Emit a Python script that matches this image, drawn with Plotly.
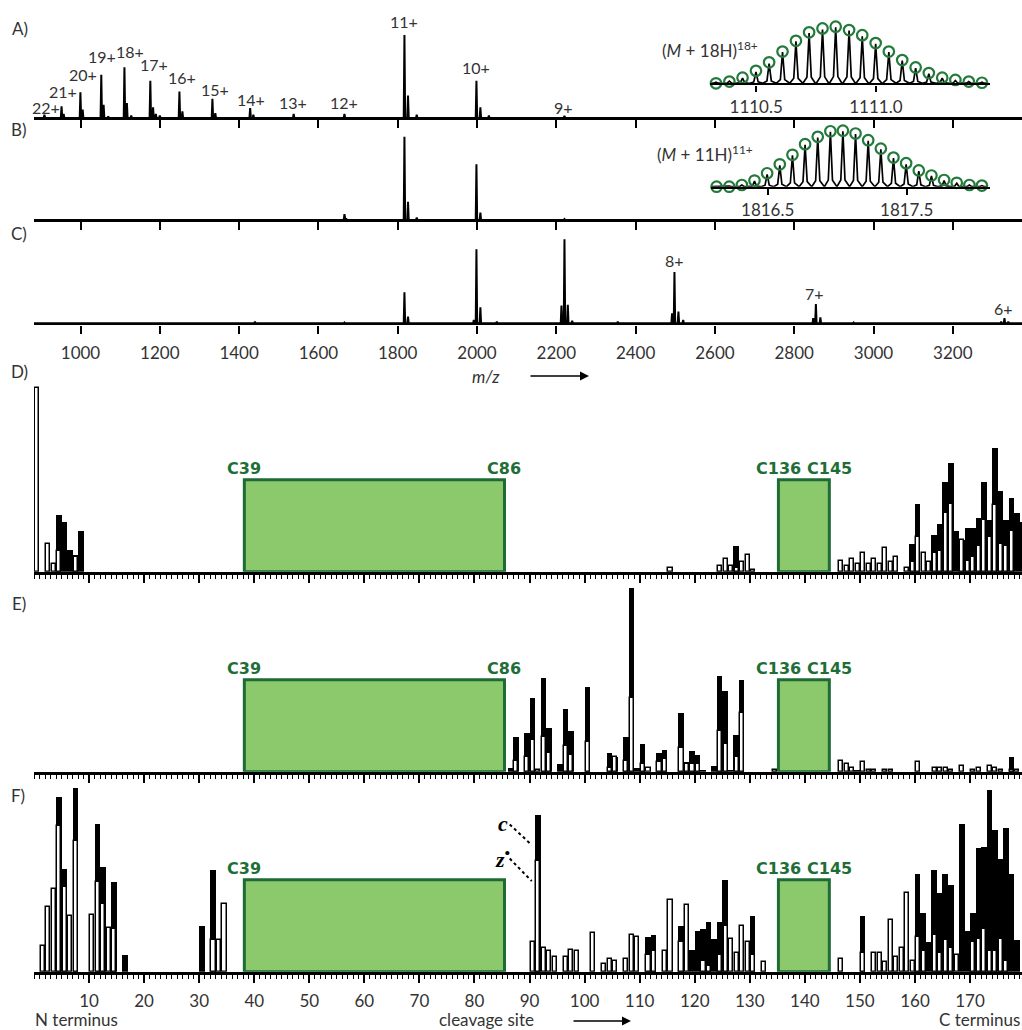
import plotly.graph_objects as go

W, H = 1022, 1030
def px(x):
    return x / W
def py(y):
    return 1 - y / H

# ---------------- DATA ----------------
# Mass spectra: peak m/z and relative intensity (% of tallest peak in panel)
A_mz  = [909.0, 952.2, 957.5, 999.8, 1005.5, 1052.4, 1058.3, 1070.0, 1110.8, 1117.0, 1128.0,
         1176.1, 1183.0, 1190.0, 1200.0, 1249.5, 1257.0, 1332.7, 1340.0, 1427.9, 1436.0,
         1537.6, 1665.7, 1817.0, 1826.0, 1848.0, 1998.6, 2008.5, 2030.0, 2220.6]
A_int = [4, 14, 5, 31, 10, 52, 16, 2, 61, 18, 3,
         45, 13, 5, 3, 32, 8, 23, 6, 12, 4,
         5, 5, 100, 27, 4, 45, 13, 3, 2.5]
B_mz  = [1665.7, 1670.0, 1817.0, 1826.0, 1848.0, 1998.6, 2008.5, 2220.6]
B_int = [7, 2, 100, 22, 3, 67, 9, 1]
C_mz  = [1440.0, 1665.7, 1817.0, 1826.0, 1992.0, 1998.6, 2008.5, 2050.0, 2213.0, 2220.6, 2229.0,
         2240.0, 2355.0, 2492.0, 2498.0, 2508.0, 2520.0, 2848.0, 2854.7, 2866.0, 2950.0,
         3322.0, 3330.3, 3340.0]
C_int = [2, 1, 37, 8, 4, 88, 19, 2, 21, 100, 22,
         3, 2, 12, 61, 14, 4, 6, 23, 7, 1,
         2, 6, 2]

# charge-state labels: (text, label centre in px)
A_labels = [("22+", 46, 107), ("21+", 63, 91), ("20+", 83, 75), ("19+", 102, 57),
            ("18+", 130, 52), ("17+", 154, 64), ("16+", 182, 78), ("15+", 215, 89),
            ("14+", 251, 99), ("13+", 293, 103), ("12+", 344, 103), ("11+", 404, 22),
            ("10+", 476, 68), ("9+", 563, 107)]
C_labels = [("8+", 674, 261), ("7+", 814, 293), ("6+", 1003, 308)]

# Isotopic distributions (insets)
isoA_mz = [1110.332, 1110.388, 1110.443, 1110.499, 1110.554, 1110.610, 1110.666, 1110.721,
           1110.777, 1110.832, 1110.888, 1110.943, 1110.999, 1111.054, 1111.110, 1111.166,
           1111.221, 1111.277, 1111.332, 1111.388, 1111.443]
isoA_theo = [0.0, 0.03, 0.10, 0.22, 0.37, 0.56, 0.75, 0.90, 0.97, 1.00, 0.94,
             0.85, 0.71, 0.56, 0.41, 0.28, 0.18, 0.10, 0.06, 0.03, 0.01]
isoA_exp  = [0.02, 0.04, 0.09, 0.20, 0.35, 0.55, 0.74, 0.89, 0.95, 0.99, 0.93,
             0.83, 0.70, 0.55, 0.40, 0.27, 0.17, 0.09, 0.05, 0.03, 0.02]
isoB_mz = [1816.132, 1816.223, 1816.314, 1816.405, 1816.496, 1816.587, 1816.678, 1816.769,
           1816.860, 1816.951, 1817.041, 1817.132, 1817.223, 1817.314, 1817.405, 1817.496,
           1817.587, 1817.678, 1817.769, 1817.860, 1817.951, 1818.041]
isoB_theo = [0.0, 0.0, 0.03, 0.11, 0.24, 0.40, 0.57, 0.76, 0.89, 0.99, 1.00,
             0.95, 0.83, 0.68, 0.52, 0.42, 0.29, 0.20, 0.12, 0.07, 0.03, 0.02]
isoB_exp  = [0.01, 0.01, 0.03, 0.10, 0.22, 0.38, 0.56, 0.75, 0.88, 0.98, 0.99,
             0.94, 0.82, 0.67, 0.51, 0.40, 0.28, 0.19, 0.11, 0.06, 0.03, 0.02]

# Fragment abundance per cleavage site (relative %); c ions (black) and z• ions (white)
D_c = {4: 31, 5: 27, 6: 12, 7: 9, 8: 22, 127: 14, 159: 15, 160: 37, 163: 20, 164: 26,
       165: 49, 166: 59, 167: 22, 168: 17, 169: 24, 170: 24, 171: 29, 172: 49, 173: 28,
       174: 67, 175: 44, 176: 28, 177: 40, 178: 32, 179: 27}
D_z = {0: 100, 2: 15, 3: 4, 4: 11, 7: 8, 115: 2, 124: 3, 125: 7, 126: 3, 127: 2, 128: 5,
       129: 9, 130: 1, 146: 6, 147: 3, 148: 7, 149: 4, 150: 10, 151: 4, 152: 7, 153: 4,
       154: 13, 155: 5, 156: 8, 158: 2, 159: 5, 160: 19, 161: 10, 162: 5, 163: 10, 164: 11,
       165: 32, 166: 37, 168: 17, 169: 6, 170: 8, 171: 14, 172: 28, 173: 19, 174: 36,
       175: 15, 176: 14, 177: 22}
E_c = {86: 2, 87: 19, 89: 21, 90: 40, 92: 51, 93: 24, 95: 4, 96: 34, 97: 22, 100: 46,
       104: 10, 105: 8, 107: 19, 108: 100, 109: 2, 110: 15, 113: 10, 114: 12, 117: 32,
       118: 5, 119: 11, 120: 9, 121: 1, 123: 3, 124: 52, 125: 44, 126: 1, 127: 20, 128: 50,
       149: 1, 177: 8}
E_z = {87: 6, 89: 8, 90: 17, 91: 1, 92: 19, 93: 10, 96: 14, 97: 9, 100: 16, 104: 2, 105: 8,
       107: 6, 108: 40, 110: 4, 111: 2, 113: 5, 114: 7, 117: 13, 118: 4, 119: 4, 120: 4,
       124: 22, 125: 15, 127: 8, 128: 32, 134: 1, 146: 6, 147: 4, 148: 2, 150: 5, 151: 1,
       152: 1, 154: 1, 155: 1, 160: 5, 163: 2, 164: 2, 165: 2, 166: 1, 168: 3, 170: 1,
       171: 2, 173: 3, 174: 2, 175: 1, 177: 1, 178: 1}
F_c = {4: 95, 5: 56, 7: 100, 11: 80, 12: 57, 14: 49, 16: 9, 30: 25, 32: 55, 91: 85,
       111: 19, 112: 20, 117: 25, 119: 12, 120: 22, 121: 23, 122: 27, 123: 18, 124: 27,
       125: 50, 130: 30, 150: 30, 160: 53, 161: 32, 162: 16, 163: 55, 164: 43, 165: 53,
       166: 47, 168: 80, 169: 22, 170: 32, 171: 67, 172: 68, 173: 99, 174: 77, 175: 61,
       176: 78, 177: 53, 178: 17}
F_z = {1: 14, 2: 35, 3: 45, 4: 79, 5: 46, 6: 30, 7: 71, 10: 31, 11: 49, 12: 37, 13: 24,
       14: 23, 32: 17, 33: 17, 34: 37, 90: 16, 91: 60, 92: 13, 93: 11, 94: 8, 96: 8, 97: 12,
       98: 11, 101: 21, 103: 4, 104: 7, 105: 6, 107: 7, 108: 20, 109: 19, 111: 9, 112: 11,
       114: 11, 115: 39, 117: 16, 118: 36, 121: 6, 122: 3, 124: 9, 125: 25, 126: 18,
       127: 10, 128: 25, 129: 16, 130: 9, 132: 5, 146: 7, 150: 10, 152: 10, 153: 10,
       154: 5, 155: 28, 156: 8, 157: 13, 158: 43, 159: 6, 160: 19, 161: 11, 163: 20,
       164: 10, 165: 17, 166: 13, 167: 9, 170: 16, 171: 18, 172: 23, 173: 11, 174: 11,
       175: 18, 176: 6}

disulfides = [(39, 86), (136, 145)]
box_height = 50
site_ticks = list(range(10, 171, 10))
mz_ticks = list(range(1000, 3201, 200))

# ---------------- STYLE ----------------
FONT = "Lato"
TXT = "#333333"
GREEN_FILL = "#8cc86c"
GREEN_LINE = "#1e6b36"
GREEN_TXT = "#1f6e38"

X0 = 34  # px left of axes
MZ_PER_PX = 1 / 0.3965
MZ_RANGE = [1000 - (80.5 - X0) * MZ_PER_PX, 1000 + (W - 80.5) * MZ_PER_PX]
SITE_RANGE = [0, (W - X0) / 5.506]

fig = go.Figure()

def stick_trace(mz, inten, ax):
    xs, ys = [MZ_RANGE[0]], [0]
    for m, h in sorted(zip(mz, inten)):
        xs += [m - 1.8, m, m + 1.8]
        ys += [0, h, 0]
    xs.append(MZ_RANGE[1]); ys.append(0)
    fig.add_trace(go.Scatter(x=xs, y=ys, mode="lines", line=dict(color="black", width=2),
                             xaxis="x" + ax, yaxis="y" + ax, hoverinfo="skip"))

stick_trace(A_mz, A_int, "")
stick_trace(B_mz, B_int, "2")
stick_trace(C_mz, C_int, "3")

def iso_trace(mz, exp, theo, ax, hw):
    xs, ys = [], []
    for m, h in zip(mz, exp):
        xs += [m - hw, m - hw * 0.35, m, m + hw * 0.35, m + hw]
        ys += [0, h * 0.12, h, h * 0.12, 0]
    fig.add_trace(go.Scatter(x=xs, y=ys, mode="lines", line=dict(color="black", width=1.7),
                             xaxis="x" + ax, yaxis="y" + ax, hoverinfo="skip"))
    fig.add_trace(go.Scatter(x=mz, y=theo, mode="markers", cliponaxis=False,
                             marker=dict(symbol="circle-open", size=10.5, color="#237a3b",
                                         line=dict(width=2.2, color="#237a3b")),
                             xaxis="x" + ax, yaxis="y" + ax, hoverinfo="skip"))

iso_trace(isoA_mz, isoA_exp, isoA_theo, "7", 0.026)
iso_trace(isoB_mz, isoB_exp, isoB_theo, "8", 0.043)

def bar_traces(c, z, ax):
    ck = sorted(c)
    zk = sorted(z)
    fig.add_trace(go.Bar(x=[k + 0.5 for k in ck], y=[c[k] for k in ck], width=1.0,
                         marker=dict(color="black", line=dict(width=0)),
                         xaxis="x" + ax, yaxis="y" + ax, hoverinfo="skip"))
    fig.add_trace(go.Bar(x=[k + 0.6 for k in zk], y=[z[k] for k in zk], width=0.74,
                         marker=dict(color="white", line=dict(width=1.5, color="black")),
                         xaxis="x" + ax, yaxis="y" + ax, hoverinfo="skip"))

bar_traces(D_c, D_z, "4")
bar_traces(E_c, E_z, "5")
bar_traces(F_c, F_z, "6")

# ---------------- LAYOUT ----------------
xdom = [px(X0), 1.0]
layout = dict(width=W, height=H, margin=dict(l=0, r=0, t=0, b=0),
              paper_bgcolor="white", plot_bgcolor="rgba(0,0,0,0)",
              showlegend=False, barmode="overlay", bargap=0,
              font=dict(family=FONT, color=TXT, size=17))

def ms_xaxis(anchor, labels):
    return dict(domain=xdom, range=MZ_RANGE, anchor=anchor, showgrid=False, zeroline=False,
                showline=True, linecolor="black", linewidth=2.4, ticks="outside",
                ticklen=8, tickwidth=1.6, tickcolor="black", tickvals=mz_ticks,
                showticklabels=labels, tickfont=dict(size=17, color=TXT),
                ticklabelstandoff=5)

def hidden_y(anchor, base_px, top_px, rng):
    return dict(domain=[py(base_px), py(top_px)], range=rng, anchor=anchor, visible=False,
                fixedrange=True)

# mass spectra: 100 % -> px heights
layout["xaxis"] = ms_xaxis("y", False)
layout["yaxis"] = hidden_y("x", 118, 118 - 83 * 1.12, [0, 112])
layout["xaxis2"] = ms_xaxis("y2", False)
layout["yaxis2"] = hidden_y("x2", 220, 220 - 83.3 * 1.12, [0, 112])
layout["xaxis3"] = ms_xaxis("y3", True)
layout["yaxis3"] = hidden_y("x3", 323.3, 323.3 - 84 * 1.12, [0, 112])

def site_xaxis(anchor, labels):
    return dict(domain=xdom, range=SITE_RANGE, anchor=anchor, showgrid=False, zeroline=False,
                showline=True, linecolor="black", linewidth=2.6, ticks="outside",
                ticklen=8, tickwidth=1.5, tickcolor="black", tickmode="array",
                tickvals=site_ticks, showticklabels=labels,
                tickfont=dict(size=17, color=TXT), ticklabelstandoff=4,
                minor=dict(tickmode="linear", tick0=0, dtick=1, ticks="outside",
                           ticklen=4, tickwidth=1.2, tickcolor="black"))

for ax, base in (("4", 571.7), ("5", 771.7), ("6", 971.7)):
    layout["xaxis" + ax] = site_xaxis("y" + ax, ax == "6")
    layout["yaxis" + ax] = hidden_y("x" + ax, base, base - 1.84 * 102, [0, 102])

# insets
def inset_xaxis(anchor, x0p, x1p, rng, ticks):
    return dict(domain=[px(x0p), px(x1p)], range=rng, anchor=anchor, showgrid=False,
                zeroline=False, showline=True, linecolor="black", linewidth=2.4,
                ticks="outside", ticklen=6, tickwidth=1.6, tickcolor="black",
                tickvals=ticks, ticktext=[f"{t:.1f}" for t in ticks],
                tickfont=dict(size=17, color=TXT), ticklabelstandoff=1)

A_PPM = 239.4   # px per m/z unit in inset A
B_PPM = 139.0
layout["xaxis7"] = inset_xaxis("y7", 710, 990, [1110.5 - (756.2 - 710) / A_PPM,
                                                1110.5 + (990 - 756.2) / A_PPM], [1110.5, 1111.0])
layout["yaxis7"] = hidden_y("x7", 83.3, 83.3 - 56.6 * 1.15, [0, 1.15])
layout["xaxis8"] = inset_xaxis("y8", 711, 990, [1816.5 - (767.7 - 711) / B_PPM,
                                                1816.5 + (990 - 767.7) / B_PPM], [1816.5, 1817.5])
layout["yaxis8"] = hidden_y("x8", 186.7, 186.7 - 56 * 1.15, [0, 1.15])

annotations = []
shapes = []

def text(x, y, t, size=17, xanchor="center", font=FONT, color=TXT, **kw):
    annotations.append(dict(x=px(x), y=py(y), xref="paper", yref="paper", text=t,
                            showarrow=False, xanchor=xanchor, yanchor="middle",
                            font=dict(family=font, size=size, color=color), **kw))

for lab, (x, y) in zip(["A)", "B)", "C)", "D)", "E)", "F)"],
                       [(20, 29), (19, 130), (19, 234), (19, 371), (19, 603), (18, 795)]):
    text(x, y, lab)

for t, x, y in A_labels + C_labels:
    text(x, y, t, size=16)

text(710, 50, "(<i>M</i> + 18H)<sup>18+</sup>")
text(705, 153, "(<i>M</i> + 11H)<sup>11+</sup>")

def arrow(x_tail, x_head, y):
    annotations.append(dict(x=px(x_head), y=py(y), xref="paper", yref="paper",
                            axref="pixel", ayref="pixel", ax=-(x_head - x_tail), ay=0,
                            text="", showarrow=True, arrowhead=2, arrowsize=1.2,
                            arrowwidth=1.5, arrowcolor="black"))

text(486, 376, "<i>m/z</i>")
arrow(529, 589, 376)
text(33, 1019, "N terminus", xanchor="left")
text(486, 1019, "cleavage site")
arrow(572, 631, 1021)
text(937, 1019, "C terminus", xanchor="left")

# disulfide boxes
for ax in ("4", "5", "6"):
    for c1, c2 in disulfides:
        shapes.append(dict(type="rect", xref="x" + ax, yref="y" + ax, x0=c1 - 0.8, x1=c2 - 0.55,
                           y0=0, y1=box_height, fillcolor=GREEN_FILL,
                           line=dict(color=GREEN_LINE, width=3), layer="above"))
        labs = [(c1 - 0.8, f"C{c1}"), (c2 - 0.55, f"C{c2}")]
        for xv, t in labs:
            if ax == "6" and t == "C86":
                continue
            annotations.append(dict(x=xv, y=box_height, xref="x" + ax, yref="y" + ax, text=t,
                                    showarrow=False, yanchor="bottom", yshift=0,
                                    font=dict(family="DejaVu Sans", size=16, color=GREEN_TXT,
                                              weight="bold")))

# c / z• pointers in panel F (site 91)
cz_site = 91
for lab, y_lab, y_end in (("c", 80.5, F_c[cz_site] * 0.81), ("z<sup>•</sup>", 62, F_z[cz_site] * 0.82)):
    annotations.append(dict(x=cz_site - 5.9, y=y_lab, xref="x6", yref="y6", text=f"<b><i>{lab}</i></b>",
                            showarrow=False, font=dict(family="Liberation Serif", size=22, color="black")))
    shapes.append(dict(type="line", xref="x6", yref="y6", x0=cz_site - 4.6, y0=y_lab - 0.5,
                       x1=cz_site - 0.6, y1=y_end, line=dict(color="black", width=2, dash="dot")))

layout["annotations"] = annotations
layout["shapes"] = shapes
fig.update_layout(**layout)
fig.write_html("out.html", config={"displayModeBar": False},
               post_script="document.body.style.margin='0px';document.body.style.overflow='hidden';")
